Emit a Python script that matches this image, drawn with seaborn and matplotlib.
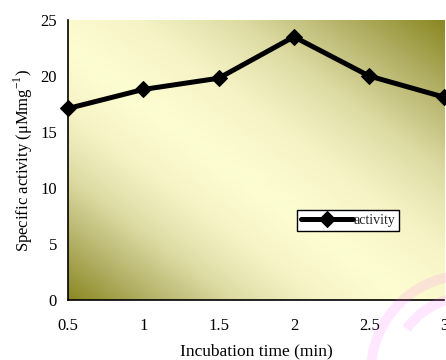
import numpy as np
import pandas as pd
import matplotlib
matplotlib.use("Agg")
import matplotlib.pyplot as plt
from matplotlib.colors import LinearSegmentedColormap
from matplotlib.patches import Wedge
import seaborn as sns

# Specific activity versus incubation time
incubation_time = [0.5, 1.0, 1.5, 2.0, 2.5, 3.0]
activity = [17.1, 18.8, 19.8, 23.5, 20.0, 18.1]
x_ticks = [0.5, 1, 1.5, 2, 2.5, 3]
x_tick_labels = ["0.5", "1", "1.5", "2", "2.5", "3"]
y_ticks = [0, 5, 10, 15, 20, 25]

df = pd.DataFrame({"time": incubation_time, "activity": activity})

sns.set_theme(style="white")
plt.rcParams["font.family"] = ["Liberation Serif", "DejaVu Serif"]
plt.rcParams["mathtext.fontset"] = "custom"
plt.rcParams["mathtext.rm"] = "Liberation Serif"

fig = plt.figure(figsize=(4.46, 3.6), dpi=100)
fig.patch.set_facecolor("white")
ax = fig.add_axes([68 / 446, 60 / 360, 376.5 / 446, 280 / 360])

# Diagonal two-tone fill: light along a band from the top-left corner to the
# bottom-right, olive toward the bottom-left and top-right corners
u, v = np.meshgrid(np.linspace(0, 1, 400), np.linspace(0, 1, 300))
s = u + v - 0.9
val = np.where(s > 0, s / 1.1, -s / 0.9)
shade = LinearSegmentedColormap.from_list(
    "olive",
    [(0.0, "#fdfdd2"), (0.25, "#f6f4c6"), (0.5, "#dedca4"),
     (0.75, "#b4b268"), (1.0, "#8a8822")])
ax.imshow(val, cmap=shade, origin="lower", extent=[0, 1, 0, 1],
          transform=ax.transAxes, aspect="auto", zorder=0, vmin=0, vmax=1)

sns.lineplot(data=df, x="time", y="activity", ax=ax, color="black",
             linewidth=3.6, marker="D", markersize=8, markeredgecolor="black",
             label="activity", zorder=3, clip_on=False)

ax.set_xlim(0.5, 3.0)
ax.set_ylim(0, 25)
ax.set_xticks(x_ticks)
ax.set_xticklabels(x_tick_labels)
ax.set_yticks(y_ticks)
ax.tick_params(axis="both", direction="out", length=4, width=1, color="black",
               labelsize=12, labelcolor="black")
ax.tick_params(axis="y", pad=4)
ax.tick_params(axis="x", pad=9)
for side in ("top", "right"):
    ax.spines[side].set_visible(False)
for side in ("left", "bottom"):
    ax.spines[side].set_color("black")
    ax.spines[side].set_linewidth(1.2)

ax.set_xlabel("Incubation time (min)", fontsize=12.5, color="black",
              labelpad=7)
ax.set_ylabel("Specific activity (μMmg$^{-1}$)", fontsize=12,
              color="black", labelpad=4)

leg = ax.legend(loc="upper left", bbox_to_anchor=(229 / 376.5, 90 / 280),
                frameon=True, fancybox=False, fontsize=10, handlelength=3.7,
                handletextpad=0.05, borderpad=0.3, borderaxespad=0)
leg.get_frame().set_edgecolor("black")
leg.get_frame().set_linewidth(1.0)
leg.get_frame().set_facecolor("white")
leg.get_frame().set_alpha(1)

# Faint pink emblem in the lower-right corner
center = (4.68, -0.12)
for r, w, a1, a2 in [(1.02, 0.10, 55, 205), (0.80, 0.10, 55, 145)]:
    wedge = Wedge(center, r, a1, a2, width=w, transform=fig.dpi_scale_trans,
                  facecolor="#ff66ff", edgecolor="none", alpha=0.15,
                  zorder=10)
    fig.patches.append(wedge)

fig.savefig("out.png", dpi=100)
